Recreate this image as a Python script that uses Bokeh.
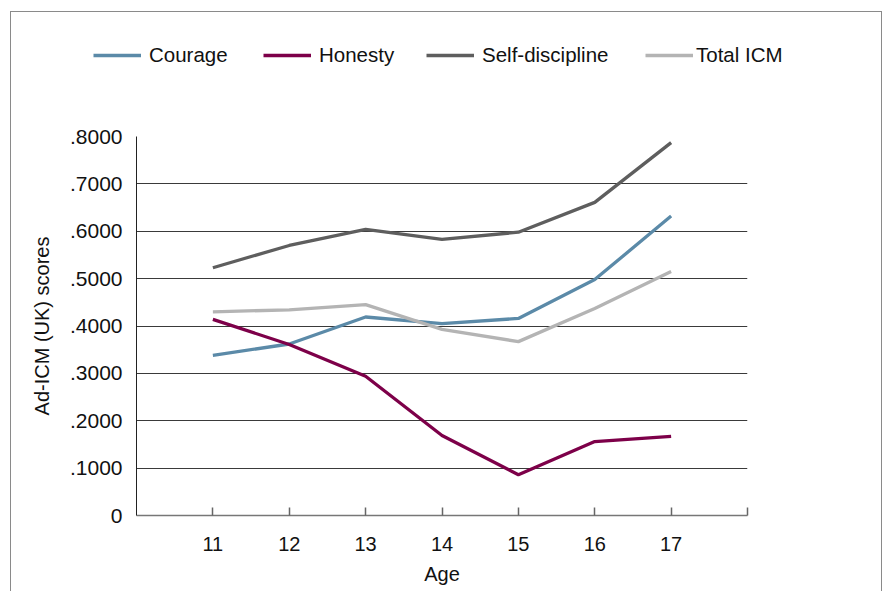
from bokeh.plotting import figure
from bokeh.layouts import column
from bokeh.models import Legend, LegendItem, FixedTicker, Range1d
from bokeh.embed import file_html
from bokeh.resources import INLINE

ages = [11, 12, 13, 14, 15, 16, 17]
courage = [0.338, 0.362, 0.419, 0.405, 0.416, 0.498, 0.632]
honesty = [0.414, 0.361, 0.294, 0.169, 0.086, 0.156, 0.167]
self_discipline = [0.523, 0.570, 0.604, 0.583, 0.598, 0.661, 0.787]
total_icm = [0.430, 0.434, 0.445, 0.393, 0.367, 0.437, 0.515]

series_names = ["Courage", "Honesty", "Self-discipline", "Total ICM"]
series_colors = ["#5b8aa8", "#7d0049", "#5e5e5e", "#b4b4b4"]

y_ticks = [0, 0.1, 0.2, 0.3, 0.4, 0.5, 0.6, 0.7, 0.8]
y_tick_labels = ["0", ".1000", ".2000", ".3000", ".4000", ".5000", ".6000", ".7000", ".8000"]
x_ticks = [11, 12, 13, 14, 15, 16, 17, 18]
x_tick_labels = ["11", "12", "13", "14", "15", "16", "17", ""]

FONT = "Liberation Sans"
LW = 3.3

# ---- main chart ----
p = figure(width=870, height=479, output_backend="svg", toolbar_location=None,
           x_range=Range1d(10, 18), y_range=Range1d(0, 0.8),
           min_border_left=125, min_border_right=134, min_border_top=24, min_border_bottom=76)
p.frame_align = False
p.outline_line_color = None
p.background_fill_color = "white"
p.border_fill_color = "white"

for vals, col in zip([courage, honesty, self_discipline, total_icm], series_colors):
    p.line(ages, vals, line_color=col, line_width=LW)

p.xgrid.grid_line_color = None
p.ygrid.grid_line_color = "#3a3a3a"
p.ygrid.grid_line_width = 1
p.ygrid.ticker = FixedTicker(ticks=y_ticks[1:])

p.yaxis.ticker = FixedTicker(ticks=y_ticks)
p.yaxis.major_label_overrides = {t: l for t, l in zip(y_ticks, y_tick_labels)}
p.yaxis.major_tick_line_color = None
p.yaxis.minor_tick_line_color = None
p.yaxis.axis_line_color = "#222222"
p.yaxis.axis_line_width = 1
p.yaxis.major_label_standoff = 8
p.yaxis.axis_label = "Ad-ICM (UK) scores"
p.yaxis.axis_label_standoff = 14

p.xaxis.ticker = FixedTicker(ticks=x_ticks)
p.xaxis.major_label_overrides = {t: l for t, l in zip(x_ticks, x_tick_labels)}
p.xaxis.major_tick_in = 8
p.xaxis.major_tick_out = 0
p.xaxis.major_tick_line_color = "#666666"
p.xaxis.major_tick_line_width = 1.5
p.xaxis.minor_tick_line_color = None
p.xaxis.axis_line_color = "#777777"
p.xaxis.axis_line_width = 1.5
p.xaxis.major_label_standoff = 21
p.xaxis.axis_label = "Age"
p.xaxis.axis_label_standoff = 9

for ax in [p.xaxis[0], p.yaxis[0]]:
    ax.major_label_text_font = FONT
    ax.major_label_text_font_size = "20px"
    ax.major_label_text_color = "#111111"
    ax.axis_label_text_font = FONT
    ax.axis_label_text_font_size = "20px"
    ax.axis_label_text_font_style = "normal"
    ax.axis_label_text_color = "#111111"
p.yaxis.major_label_text_font_size = "21px"

# ---- legend strip ----
lg = figure(width=870, height=100, output_backend="svg", toolbar_location=None,
            x_range=Range1d(0, 1), y_range=Range1d(0, 1),
            x_axis_type=None, y_axis_type=None,
            min_border_left=0, min_border_right=0, min_border_top=0, min_border_bottom=0)
lg.frame_align = False
lg.outline_line_color = None
lg.grid.visible = False

legend_x = [82, 252, 415, 634]
legend_standoff = [8, 8, 8, 3]
for name, col, lx, so in zip(series_names, series_colors, legend_x, legend_standoff):
    r = lg.line([-5, -4], [-5, -5], line_color=col, line_width=LW)
    leg = Legend(items=[LegendItem(label=name, renderers=[r])], location=(lx, 45),
                 glyph_width=48, glyph_height=20, label_standoff=so,
                 padding=0, margin=0, border_line_color=None, background_fill_alpha=0,
                 label_text_font=FONT, label_text_font_size="20.5px", label_text_color="#111111")
    lg.add_layout(leg, "center")

layout = column(lg, p, spacing=0,
                styles={"margin-left": "10px", "margin-top": "11px",
                        "border-left": "1px solid #8a8a8a", "border-top": "1px solid #8a8a8a",
                        "border-right": "1px solid #8a8a8a"})

open("out.html", "w").write(file_html(layout, INLINE))
